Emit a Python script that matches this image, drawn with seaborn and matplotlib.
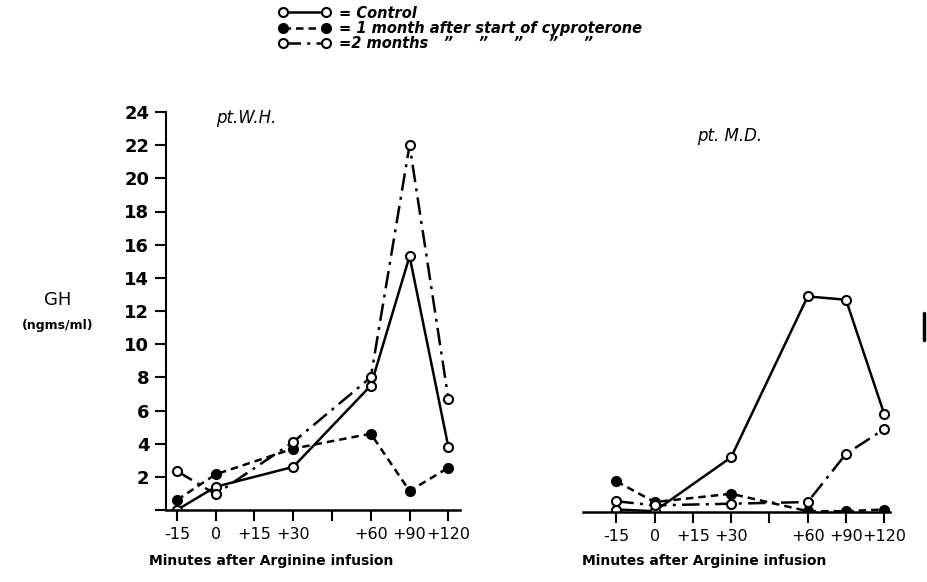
import pandas as pd
import numpy as np
import matplotlib.pyplot as plt
import seaborn as sns
from matplotlib.lines import Line2D

# x axis is spaced by tick, not by minutes
tick_minutes = [-15, 0, 15, 30, 45, 60, 90, 120]
tick_labels = ['-15', '0', '+15', '+30', '', '+60', '+90', '+120']
minutes = [-15, 0, 30, 60, 90, 120]

# pt. W.H.
wh_control = [0.0, 1.4, 2.6, 7.5, 15.3, 3.8]
wh_month1 = [0.6, 2.15, 3.7, 4.6, 1.15, 2.55]
wh_month2 = [2.35, 0.95, 4.1, 8.0, 22.0, 6.7]

# pt. M.D.
md_control = [0.15, 0.05, 3.3, 13.0, 12.8, 5.9]
md_month1 = [1.85, 0.6, 1.1, 0.05, 0.05, 0.15]
md_month2 = [0.65, 0.4, 0.5, 0.6, 3.5, 5.0]

series_names = ['= Control', '= 1 month after start of cyproterone',
                '=2 months   \u201d     \u201d     \u201d     \u201d     \u201d']

rows = []
for pt, vals in [('W.H.', [wh_control, wh_month1, wh_month2]),
                 ('M.D.', [md_control, md_month1, md_month2])]:
    for name, v in zip(series_names, vals):
        for m, g in zip(minutes, v):
            rows.append({'patient': pt, 'series': name, 'pos': tick_minutes.index(m), 'GH': g})
df = pd.DataFrame(rows)

sns.set_style('ticks')
plt.rcParams['font.family'] = ['DejaVu Sans']
for k in ['text.color', 'axes.labelcolor', 'xtick.color', 'ytick.color', 'axes.edgecolor']:
    plt.rcParams[k] = 'black'

styles = {
    series_names[0]: dict(linestyle='-', marker='o', markerfacecolor='white'),
    series_names[1]: dict(linestyle=(0, (3, 2)), marker='o', markerfacecolor='black'),
    series_names[2]: dict(linestyle=(0, (7, 2.5, 1.2, 2.5)), marker='o', markerfacecolor='white'),
}

fig = plt.figure(figsize=(9.27, 5.82), dpi=100)
axL = fig.add_axes([166/927, 72/582, 294/927, 398/582])
axR = fig.add_axes([583/927, 70/582, 307/927, 398/582])

for ax, pt in [(axL, 'W.H.'), (axR, 'M.D.')]:
    sub = df[df['patient'] == pt]
    for name in series_names:
        sns.lineplot(ax=ax, data=sub[sub['series'] == name], x='pos', y='GH',
                     color='black', linewidth=1.8, markersize=6.5,
                     markeredgewidth=1.5, markeredgecolor='black', label=name,
                     **styles[name])
    ax.set_ylim(0, 24)
    ax.set_xticks(range(len(tick_minutes)))
    ax.set_xticklabels(tick_labels, fontsize=11.5)
    ax.set_xlabel('Minutes after Arginine infusion', fontsize=10,
                  fontweight='bold')
    ax.set_ylabel('')
    ax.tick_params(axis='both', length=8, width=1.5, direction='out', pad=4)
    for s in ['top', 'right']:
        ax.spines[s].set_visible(False)
    ax.spines['bottom'].set_linewidth(1.8)
    ax.spines['left'].set_linewidth(1.5)
    ax.get_legend().remove()

axL.xaxis.set_label_coords(0.357, -0.11)
axR.xaxis.set_label_coords(0.394, -0.105)

axL.set_xlim(-0.28, 7.3)
axL.set_yticks(range(0, 25, 2))
axL.set_yticklabels([''] + [str(v) for v in range(2, 25, 2)], fontsize=13, fontweight='bold')
axL.text(0.17, 0.985, 'pt.W.H.', transform=axL.transAxes, fontsize=12,
         fontstyle='italic', ha='left', va='center')

axR.set_xlim(-0.87, 7.15)
axR.set_yticks([])
axR.spines['left'].set_visible(False)
axR.text(0.37, 0.945, 'pt. M.D.', transform=axR.transAxes, fontsize=12,
         fontstyle='italic', ha='left', va='center')

fig.text(58/927, 1 - 300/582, 'GH', fontsize=13, ha='center', va='center')
fig.text(58/927, 1 - 325/582, '(ngms/ml)', fontsize=9, fontweight='bold',
         ha='center', va='center')

handles, labels = axL.get_legend_handles_labels()
fig.legend(handles, labels, loc='upper left', bbox_to_anchor=(268/927, 1.008),
           frameon=False, numpoints=2, handlelength=3.6, handletextpad=0.6,
           labelspacing=0.02, borderpad=0.2,
           prop=dict(size=10.5, style='italic', weight='bold'))

# cropped bracket at the right edge
fig.add_artist(Line2D([924/927, 924/927], [1 - 313/582, 1 - 340/582],
                      color='black', linewidth=2.5))

fig.savefig('out.png', dpi=100)
